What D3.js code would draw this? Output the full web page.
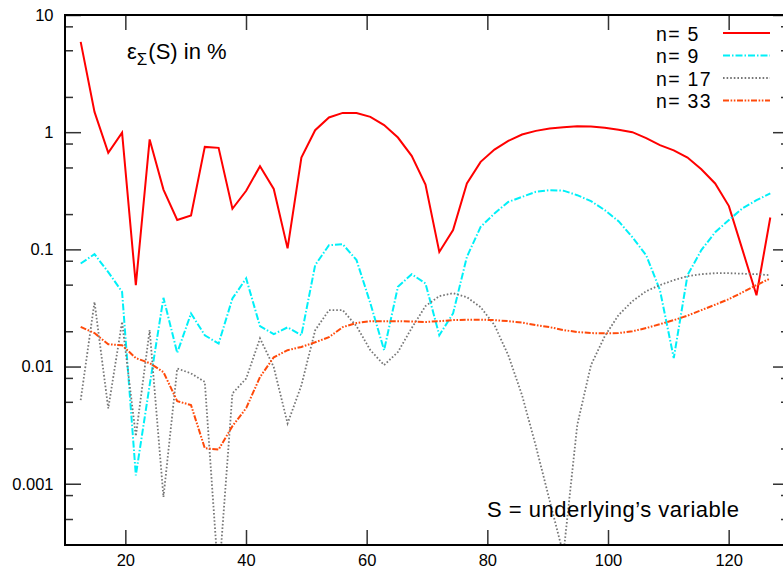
<!DOCTYPE html>
<html><head><meta charset="utf-8">
<script src="https://cdn.jsdelivr.net/npm/d3@7"></script>
<style>
body{margin:0;background:#fff}
text{font-family:"Liberation Sans",Arial,Helvetica,sans-serif;fill:#000}
</style>
</head><body>
<svg id="c" width="783" height="571"></svg>
<script>
// S grid (underlying's variable)
const S = [12.60,14.89,17.17,19.46,21.74,24.03,26.32,28.60,30.89,33.17,35.46,37.75,40.03,42.32,44.60,46.89,49.18,51.46,53.75,56.03,58.32,60.61,62.89,65.18,67.46,69.75,72.04,74.32,76.61,78.89,81.18,83.47,85.75,88.04,90.32,92.61,94.90,97.18,99.47,101.75,104.04,106.33,108.61,110.90,113.18,115.47,117.76,120.04,122.33,124.61,126.90];

// error in % for each n
const n5 = [5.9,1.49,0.666,0.99,0.0495,0.867,0.324,0.178,0.195,0.749,0.735,0.222,0.316,0.513,0.328,0.102,0.608,1.04,1.335,1.46,1.46,1.35,1.15,0.90,0.628,0.358,0.095,0.146,0.365,0.558,0.711,0.843,0.956,1.026,1.075,1.10,1.125,1.12,1.09,1.05,1.0,0.89,0.775,0.70,0.608,0.483,0.365,0.234,0.0975,0.0406,0.187];
const n9 = [0.0758,0.091,0.0639,0.0434,0.00118,0.00694,0.0386,0.0131,0.0284,0.0185,0.0157,0.0381,0.0565,0.0221,0.0189,0.0216,0.0185,0.0733,0.1086,0.1107,0.081,0.0347,0.0138,0.0479,0.0614,0.0512,0.0185,0.0284,0.0863,0.1556,0.2023,0.254,0.2805,0.3096,0.32,0.317,0.29,0.258,0.216,0.174,0.127,0.089,0.0449,0.0118,0.0602,0.0985,0.140,0.178,0.225,0.263,0.30];
const n17 = [0.00517,0.0356,0.00439,0.0241,0.00255,0.0205,0.00077,0.00963,0.00874,0.0074,0.00015,0.0059,0.0079,0.0174,0.0099,0.00327,0.0069,0.0204,0.0303,0.0303,0.0221,0.0138,0.0103,0.0133,0.0213,0.0328,0.0399,0.0423,0.0391,0.0321,0.0226,0.0125,0.0057,0.0021,0.00072,0.00025,0.00316,0.0103,0.0182,0.0275,0.0361,0.044,0.0495,0.0546,0.059,0.0614,0.0626,0.0626,0.062,0.0614,0.0602];
const n33 = [0.0218,0.0193,0.0155,0.0152,0.0118,0.0107,0.00896,0.00507,0.00469,0.00201,0.00196,0.0031,0.00442,0.00813,0.012,0.0138,0.0147,0.0161,0.0178,0.0217,0.0235,0.0244,0.0244,0.0244,0.0242,0.024,0.0244,0.0249,0.0251,0.0251,0.0249,0.0244,0.0237,0.0226,0.0217,0.0205,0.0197,0.0193,0.0192,0.0193,0.02,0.0213,0.023,0.0249,0.0272,0.0303,0.0337,0.0376,0.0431,0.0495,0.0565];

const seriesNames = ["n= 5","n= 9","n= 17","n= 33"];
const xTicks = [20,40,60,80,100,120];
const yTicks = [0.001,0.01,0.1,1,10];
const yTickLabels = ["0.001","0.01","0.1","1","10"];
const yMinorTicks = [0.0005,0.0008,0.002,0.005,0.008,0.02,0.05,0.08,0.2,0.5,0.8,2,5,8];
const titleMain = "ε", titleSub = "Σ", titleRest = "(S) in %";
const xNote = "S = underlying’s variable";

const styles = [
  {color:"#ff0000", width:2, dash:null},
  {color:"#00f0f8", width:2, dash:"7,2,1.5,2"},
  {color:"#777777", width:1.8, dash:"1.6,2"},
  {color:"#ff4a0a", width:2, dash:"6,1.6,1.6,1.6,1.6,1.6"}
];
const seriesData = [n5,n9,n17,n33];

const svg = d3.select("#c");
const L=65, T=15, R=789, B=545;
const x = d3.scaleLinear().domain([10,130]).range([L,R]);
const y = d3.scaleLog().domain([3e-4,10]).range([B,T]);

svg.append("defs").append("clipPath").attr("id","clip")
  .append("rect").attr("x",L).attr("y",T).attr("width",R-L).attr("height",B-T);

function styleAxis(g){
  g.select(".domain").remove();
  g.selectAll(".tick line").attr("stroke","#333").attr("stroke-width",1.5);
  g.selectAll(".tick text").attr("font-size","16.5px").attr("fill","#000")
    .attr("font-family","'Liberation Sans',Arial,Helvetica,sans-serif");
}

// left axis
svg.append("g").attr("transform",`translate(${L},0)`)
  .call(d3.axisLeft(y).tickValues(yTicks).tickSize(-16).tickPadding(11.5)
    .tickFormat((d,i)=>yTickLabels[i]))
  .call(styleAxis);
svg.append("g").attr("transform",`translate(${L},0)`)
  .call(d3.axisLeft(y).tickValues(yMinorTicks).tickSize(-8).tickFormat(""))
  .call(styleAxis);
// right axis
svg.append("g").attr("transform",`translate(${R},0)`)
  .call(d3.axisRight(y).tickValues(yTicks).tickSize(-16).tickFormat(""))
  .call(styleAxis);
svg.append("g").attr("transform",`translate(${R},0)`)
  .call(d3.axisRight(y).tickValues(yMinorTicks).tickSize(-8).tickFormat(""))
  .call(styleAxis);
// bottom axis
svg.append("g").attr("transform",`translate(0,${B})`)
  .call(d3.axisBottom(x).tickValues(xTicks).tickSize(-15).tickPadding(9).tickFormat(d3.format("d")))
  .call(styleAxis);
// top axis
svg.append("g").attr("transform",`translate(0,${T})`)
  .call(d3.axisTop(x).tickValues(xTicks).tickSize(-15).tickFormat(""))
  .call(styleAxis);

// lines
const line = d3.line().x((d,i)=>x(S[i])).y(d=>y(d));
const plot = svg.append("g").attr("clip-path","url(#clip)");
seriesData.forEach((vals,k)=>{
  plot.append("path").datum(vals).attr("d",line)
    .attr("fill","none").attr("stroke",styles[k].color)
    .attr("stroke-width",styles[k].width)
    .attr("stroke-dasharray",styles[k].dash)
    .attr("stroke-linejoin","miter");
});

// frame
svg.append("rect").attr("x",L).attr("y",T).attr("width",R-L).attr("height",B-T)
  .attr("fill","none").attr("stroke","#000").attr("stroke-width",2);

// title
const t = svg.append("text").attr("x",127).attr("y",59).attr("font-size","22px");
t.append("tspan").text(titleMain);
t.append("tspan").attr("font-size","17px").attr("dy",6).text(titleSub);
t.append("tspan").attr("dy",-6).attr("dx",1).text(titleRest);

// x note
svg.append("text").attr("x",487).attr("y",517).attr("font-size","22px")
  .attr("letter-spacing","0.5px").text(xNote);

// legend
const legY = [33,55.5,78,100.5];
seriesNames.forEach((nm,k)=>{
  svg.append("text").attr("x",656).attr("y",legY[k]+7.5).attr("font-size","19.5px")
    .attr("letter-spacing","1.3px").text(nm);
  svg.append("line").attr("x1",723).attr("x2",770).attr("y1",legY[k]).attr("y2",legY[k])
    .attr("stroke",styles[k].color).attr("stroke-width",styles[k].width)
    .attr("stroke-dasharray",styles[k].dash);
});
</script>
</body></html>
